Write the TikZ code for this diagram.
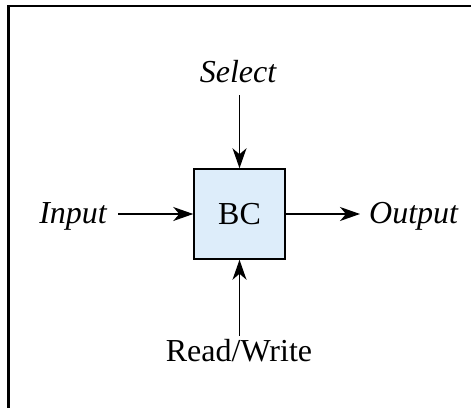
\documentclass[tikz,border=0pt]{standalone}
\usepackage{fontspec}
\setmainfont{Liberation Serif}
\usetikzlibrary{arrows.meta}
\definecolor{boxblue}{RGB}{221,237,250}
\begin{document}
\begin{tikzpicture}[x=1pt,y=-1pt,
  lbl/.style={font=\fontsize{32}{36}\selectfont, inner sep=0pt},
  sig/.style={line width=1.3pt, -{Stealth[length=20pt,width=14pt,inset=6pt]}},
  frameline/.style={line width=2.4pt}]
\useasboundingbox (0,0) rectangle (471,407);
\draw[frameline] (8.5,440) -- (8.5,6) -- (480,6);
\node[draw, line width=1.5pt, fill=boxblue, minimum width=91pt, minimum height=90pt, inner sep=0pt,
  lbl] (bc) at (239.5,214) {BC};
\node[lbl, font=\fontsize{32}{36}\selectfont\itshape] (sel) at (238,72) {Select};
\node[lbl, font=\fontsize{32}{36}\selectfont\itshape, anchor=east] (in) at (107,216) {Input};
\node[lbl, font=\fontsize{32}{36}\selectfont\itshape, anchor=west] (out) at (369,216) {Output};
\node[lbl] (rw) at (239,351) {Read/Write};
\coordinate (sels) at (239.5,95);
\coordinate (ins) at (118,214);
\coordinate (oute) at (360,214);
\coordinate (rws) at (239.5,336);
\draw[sig] (sels) -- (bc.north);
\draw[sig] (ins) -- (bc.west);
\draw[sig] (bc.east) -- (oute);
\draw[sig] (rws) -- (bc.south);
\end{tikzpicture}
\end{document}
